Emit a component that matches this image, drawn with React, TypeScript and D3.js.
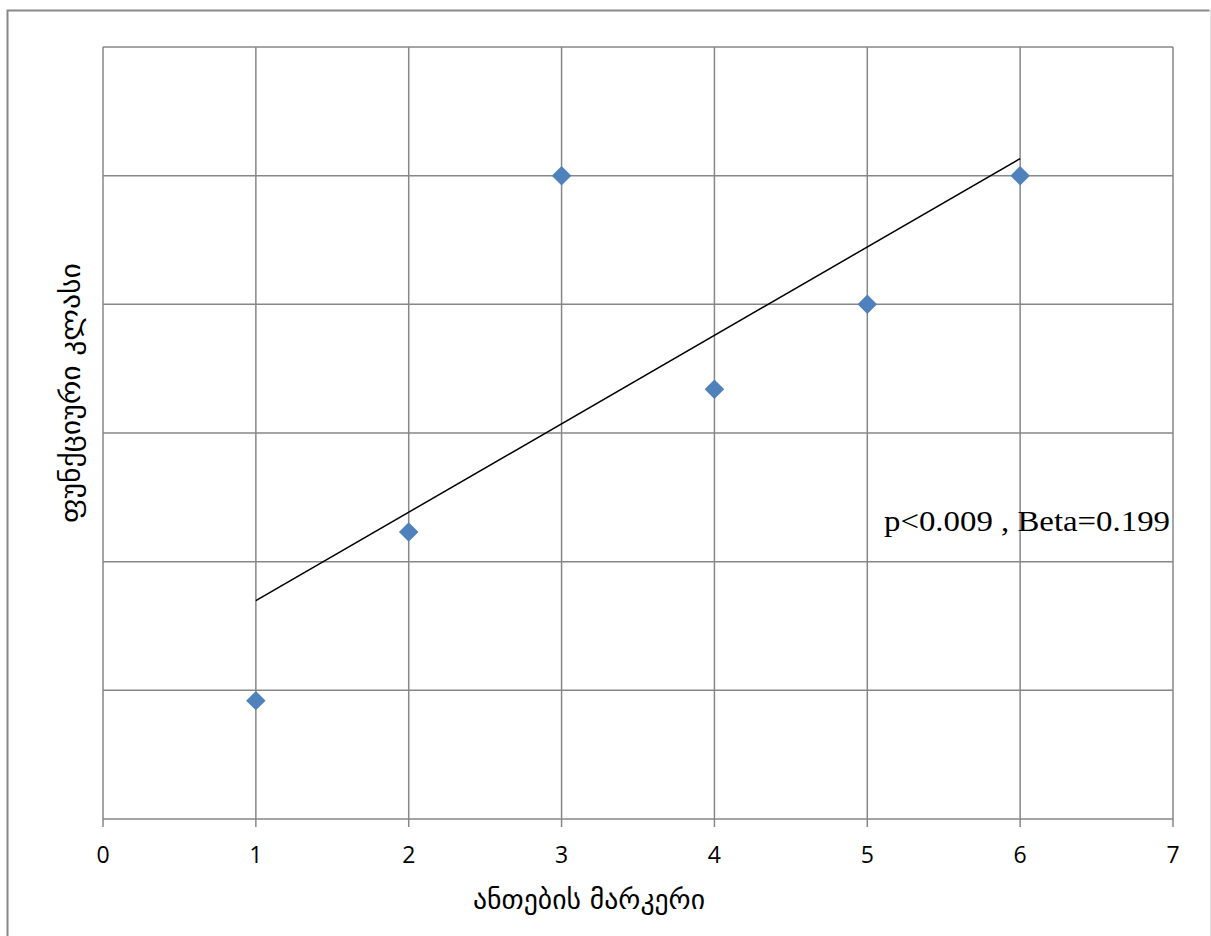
import React, { useEffect, useRef } from 'react';
import * as d3 from 'd3';

// marker values
const xValues = [1, 2, 3, 4, 5, 6];
const yValues = [0.92, 2.23, 5, 3.34, 4, 5];
const xTicks = [0, 1, 2, 3, 4, 5, 6, 7];
const yGrid = [0, 1, 2, 3, 4, 5, 6];

const xTitle = 'ანთების მარკერი';
const yTitle = 'ფუნქციური კლასი';
const note = 'p<0.009 ,  Beta=0.199';

const W = 1211;
const H = 936;
const margin = { left: 103, right: 38, top: 47, bottom: 117 };

const App = () => {
    const ref = useRef<SVGSVGElement | null>(null);

    useEffect(() => {
        const svg = d3.select(ref.current);
        svg.selectAll('*').remove();

        const x = d3.scaleLinear().domain([0, 7]).range([margin.left, W - margin.right]);
        const y = d3.scaleLinear().domain([0, 6]).range([H - margin.bottom, margin.top]);

        // outer chart border (cut off at the bottom)
        svg.append('path')
            .attr('d', `M7.5,${H} L7.5,10.5 L1209.5,10.5`)
            .attr('fill', 'none')
            .attr('stroke', '#888')
            .attr('stroke-width', 2);
        svg.append('line')
            .attr('x1', 1210.5).attr('x2', 1210.5).attr('y1', 10).attr('y2', H)
            .attr('stroke', '#ddd').attr('stroke-width', 1);

        const grid = svg.append('g').attr('stroke', '#878787').attr('stroke-width', 1.5);

        // vertical gridlines + tick marks below the axis
        grid.selectAll('.vgrid')
            .data(xTicks)
            .enter()
            .append('line')
            .attr('x1', d => x(d)).attr('x2', d => x(d))
            .attr('y1', y(6)).attr('y2', y(0) + 8);

        grid.selectAll('.hgrid')
            .data(yGrid)
            .enter()
            .append('line')
            .attr('x1', x(0)).attr('x2', x(7))
            .attr('y1', d => y(d)).attr('y2', d => y(d));

        svg.append('g')
            .selectAll('text')
            .data(xTicks)
            .enter()
            .append('text')
            .attr('x', d => x(d))
            .attr('y', y(0) + 44)
            .attr('text-anchor', 'middle')
            .style('font-family', '"Open Sans", "Liberation Sans", sans-serif')
            .style('font-size', '23px')
            .attr('fill', '#000')
            .text(d => d);

        // linear trend line (least squares over the markers)
        const mx = d3.mean(xValues) as number;
        const my = d3.mean(yValues) as number;
        const slope = d3.sum(xValues, (v, i) => (v - mx) * (yValues[i] - my)) / d3.sum(xValues, v => (v - mx) * (v - mx));
        const icpt = my - slope * mx;
        const x0 = d3.min(xValues) as number;
        const x1 = d3.max(xValues) as number;
        svg.append('line')
            .attr('x1', x(x0)).attr('y1', y(icpt + slope * x0))
            .attr('x2', x(x1)).attr('y2', y(icpt + slope * x1))
            .attr('stroke', '#000')
            .attr('stroke-width', 1.5);

        const diamond = d3.symbol().type(d3.symbolSquare).size(190);
        svg.append('g')
            .selectAll('path')
            .data(xValues)
            .enter()
            .append('path')
            .attr('d', diamond())
            .attr('transform', (d, i) => `translate(${x(d)},${y(yValues[i])}) rotate(45)`)
            .attr('fill', '#4F81BD');

        svg.append('text')
            .attr('x', 884)
            .attr('y', 531)
            .style('font-family', '"Liberation Serif", "DejaVu Serif", serif')
            .style('font-size', '30px')
            .attr('textLength', 286)
            .attr('lengthAdjust', 'spacingAndGlyphs')
            .attr('fill', '#000')
            .text(note);

        svg.append('text')
            .attr('x', 589)
            .attr('y', 909)
            .attr('text-anchor', 'middle')
            .style('font-family', '"DejaVu Sans", sans-serif')
            .style('font-size', '27px')
            .attr('textLength', 232)
            .attr('lengthAdjust', 'spacingAndGlyphs')
            .attr('fill', '#000')
            .text(xTitle);

        svg.append('text')
            .attr('transform', `translate(80, 393) rotate(-90)`)
            .attr('text-anchor', 'middle')
            .style('font-family', '"DejaVu Sans", sans-serif')
            .style('font-size', '27px')
            .attr('textLength', 260)
            .attr('lengthAdjust', 'spacingAndGlyphs')
            .attr('fill', '#000')
            .text(yTitle);
    }, []);

    return (
        <svg ref={ref} width={W} height={H}
            style={{ position: 'absolute', left: 0, top: 0, background: '#fff' }} />
    );
};

export default App;
